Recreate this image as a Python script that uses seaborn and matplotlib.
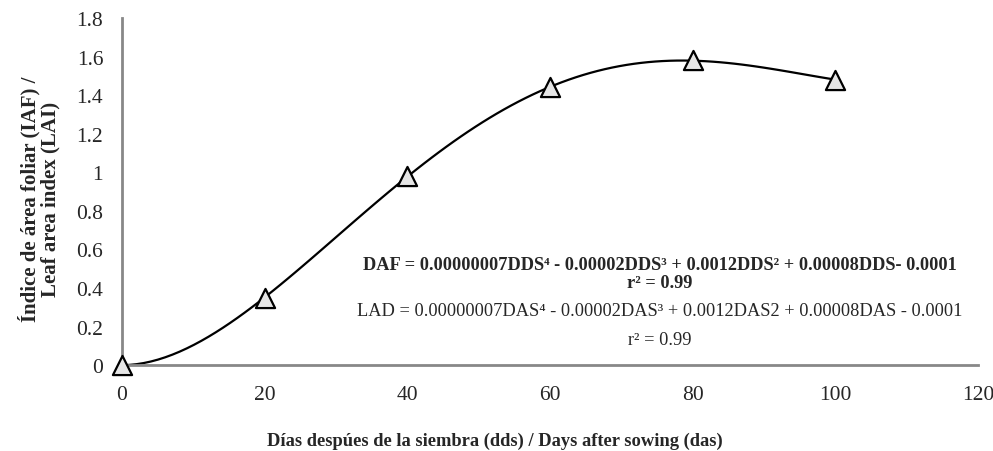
import numpy as np
import pandas as pd
import matplotlib
matplotlib.use("Agg")
import matplotlib.pyplot as plt
import seaborn as sns

# data
days = [0, 20, 40, 60, 80, 100]
lai = [0.0, 0.35, 0.98, 1.44, 1.58, 1.48]
x_ticks = [0, 20, 40, 60, 80, 100, 120]
y_ticks = [0, 0.2, 0.4, 0.6, 0.8, 1, 1.2, 1.4, 1.6, 1.8]
y_tick_labels = ["0", "0.2", "0.4", "0.6", "0.8", "1", "1.2", "1.4", "1.6", "1.8"]

df = pd.DataFrame({"days": days, "lai": lai})

sns.set_theme(style="white")
plt.rcParams["font.family"] = ["Liberation Serif", "DejaVu Serif"]

fig = plt.figure(figsize=(9.93, 4.52), dpi=100)
ax = fig.add_axes([0.1229, 0.190, 0.862, 0.768])

# fitted 4th order trend line, as in the original
sns.regplot(data=df, x="days", y="lai", order=4, ci=None, scatter=False,
            truncate=True, line_kws={"color": "black", "lw": 1.6}, ax=ax)
sns.scatterplot(data=df, x="days", y="lai", marker="^", s=190,
                facecolor="#e6e6e6", edgecolor="black", linewidth=1.6,
                zorder=5, clip_on=False, ax=ax)

ax.set_xlim(0, 120)
ax.set_ylim(0, 1.8)
ax.set_xticks(x_ticks)
ax.set_yticks(y_ticks)
ax.set_yticklabels(y_tick_labels)
ax.tick_params(axis="both", direction="out", length=4.5, width=1.5,
               color="#888888", labelsize=15.5)
ax.tick_params(axis="y", pad=9)
ax.tick_params(axis="x", pad=10)
for side in ["top", "right"]:
    ax.spines[side].set_visible(False)
for side in ["left", "bottom"]:
    ax.spines[side].set_color("#888888")
    ax.spines[side].set_linewidth(2)

ax.set_xlabel("Días despúes de la siembra (dds) / Days after sowing (das)",
              fontsize=13.3, fontweight="bold")
ax.xaxis.set_label_coords(0.436, -0.192)
ax.set_ylabel("Índice de área foliar (IAF) /\nLeaf area index (LAI)",
              fontsize=15, fontweight="bold", linespacing=1.0)
ax.yaxis.set_label_coords(-0.072, 0.48)

ax.text(0.628, 0.291,
        "DAF = 0.00000007DDS⁴ - 0.00002DDS³ + 0.0012DDS² + 0.00008DDS- 0.0001",
        transform=ax.transAxes, ha="center", va="center", fontsize=13.2,
        fontweight="bold")
ax.text(0.628, 0.239, "r² = 0.99", transform=ax.transAxes, ha="center",
        va="center", fontsize=13.2, fontweight="bold")
ax.text(0.628, 0.156,
        "LAD = 0.00000007DAS⁴ - 0.00002DAS³ + 0.0012DAS2 + 0.00008DAS - 0.0001",
        transform=ax.transAxes, ha="center", va="center", fontsize=13.2)
ax.text(0.628, 0.075, "r² = 0.99", transform=ax.transAxes, ha="center",
        va="center", fontsize=13.2)

fig.savefig("out.png", dpi=100)
